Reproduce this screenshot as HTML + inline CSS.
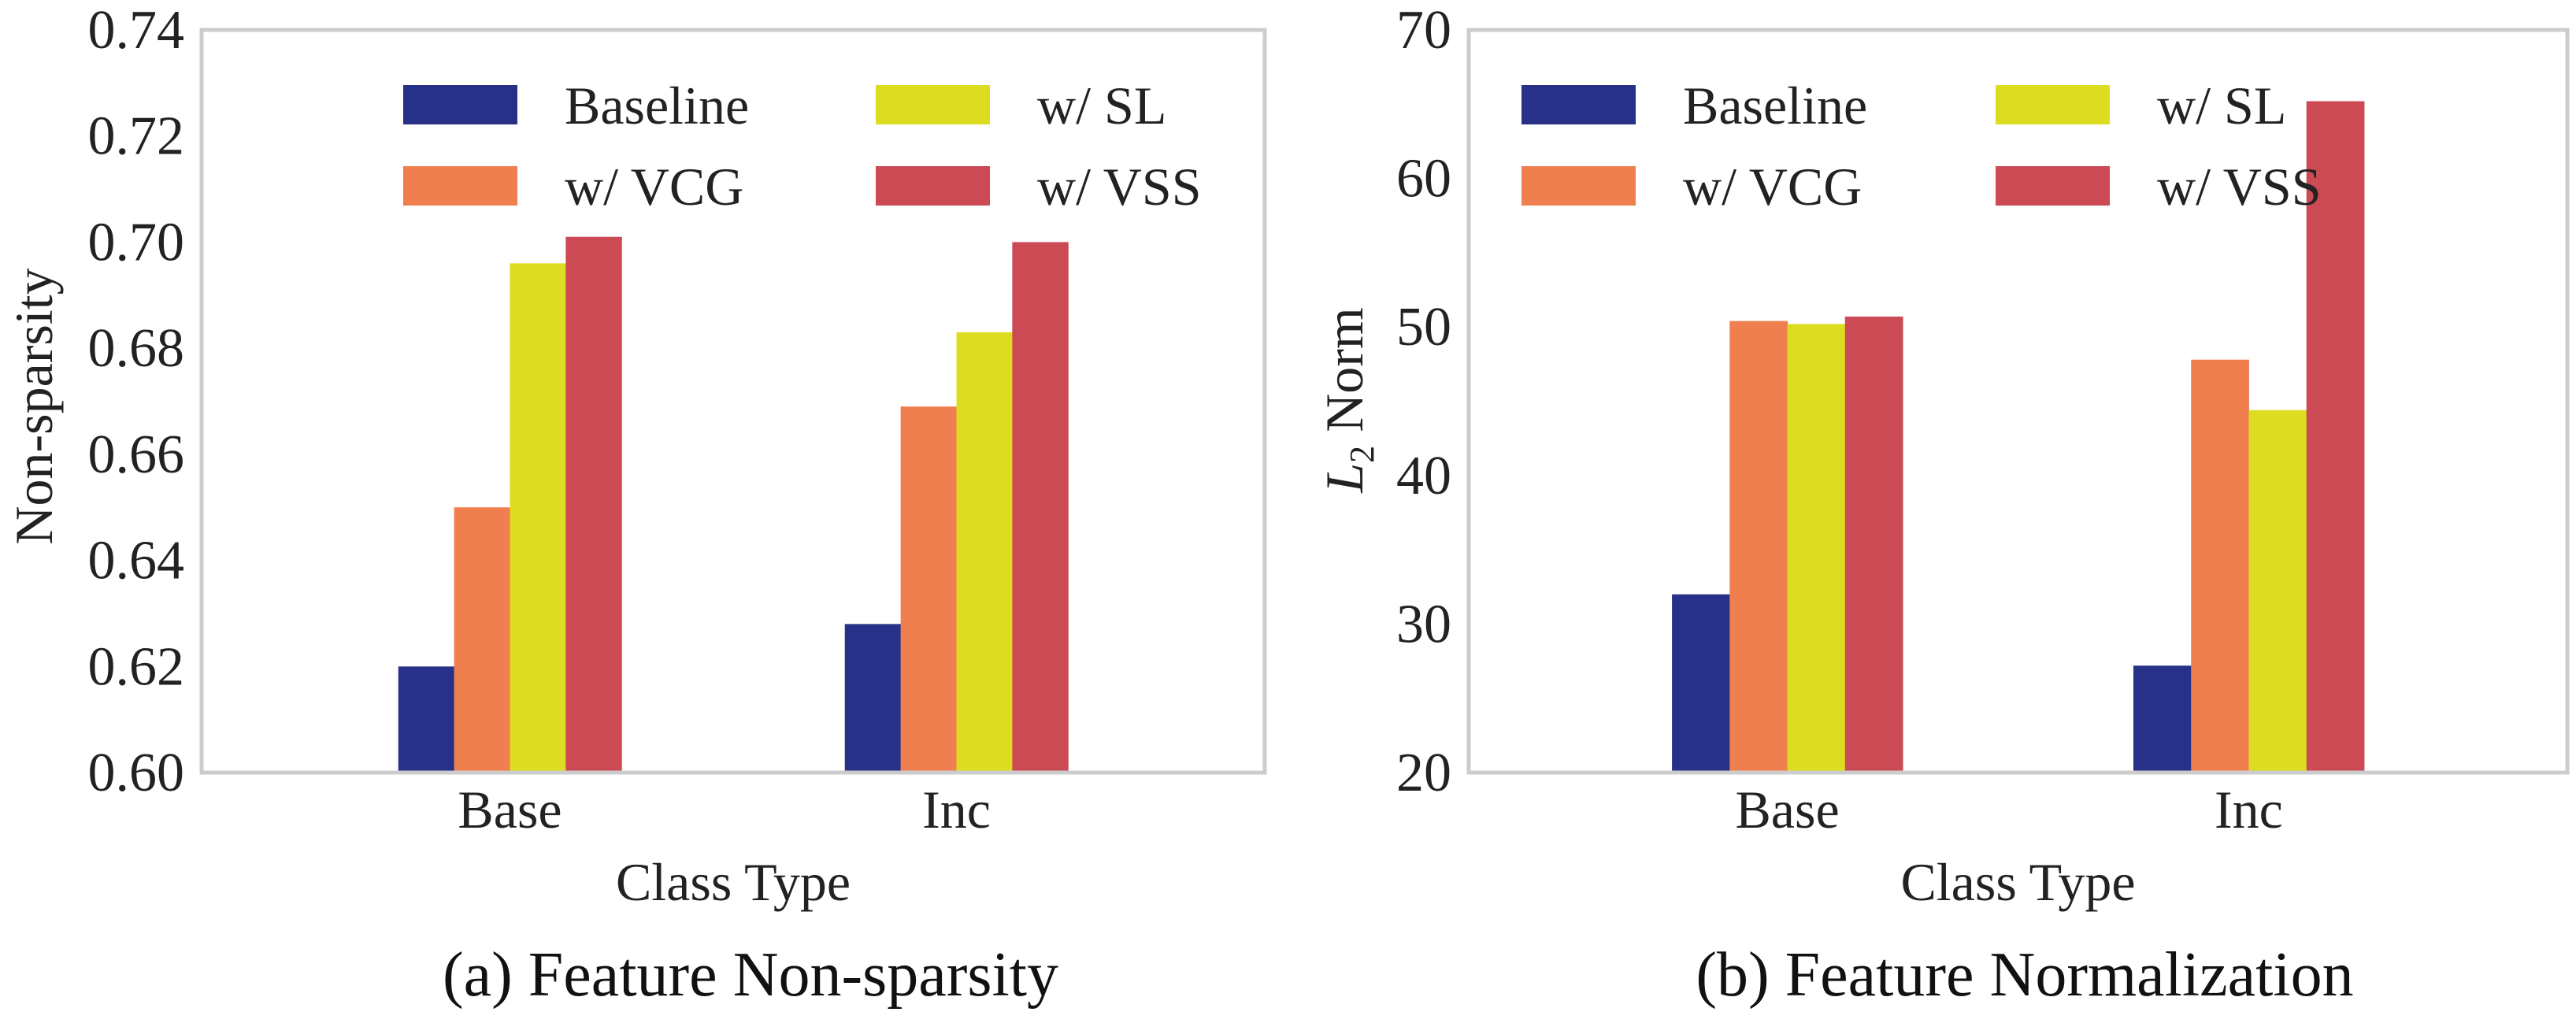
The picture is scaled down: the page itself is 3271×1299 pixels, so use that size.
<!DOCTYPE html>
<html><head><meta charset="utf-8"><style>
html,body{margin:0;padding:0;background:#fff;}
svg{display:block;font-family:"Liberation Serif",serif;fill:#222;}
</style></head><body>
<svg id="chart" width="3271" height="1299" viewBox="0 0 3271 1299" xmlns="http://www.w3.org/2000/svg"></svg>
<script>
const categories = ["Base", "Inc"];
const seriesNames = ["Baseline", "w/ VCG", "w/ SL", "w/ VSS"];
const colors = ["#283188", "#ef7f4f", "#dcdc20", "#cb4a54"];
const sparsityBaseline = [0.620, 0.628];
const sparsityVCG = [0.650, 0.669];
const sparsitySL = [0.696, 0.683];
const sparsityVSS = [0.701, 0.700];
const normBaseline = [32.0, 27.2];
const normVCG = [50.4, 47.8];
const normSL = [50.2, 44.4];
const normVSS = [50.7, 65.2];
const sparsityTicks = ["0.60","0.62","0.64","0.66","0.68","0.70","0.72","0.74"];
const normTicks = ["20","30","40","50","60","70"];

const svg = document.getElementById('chart');
const NS = "http://www.w3.org/2000/svg";
function mk(tag, attrs, parent){const e=document.createElementNS(NS,tag);for(const k in attrs)e.setAttribute(k,attrs[k]);(parent||svg).appendChild(e);return e;}

function panel(cfg){
  const g = mk('g',{});
  
  
  const L=cfg.x0,R=cfg.x1,T=38,B=981,W=R-L;
  const ymin=+cfg.ticks[0], ymax=+cfg.ticks[cfg.ticks.length-1];
  const y=v=>B-(v-ymin)/(ymax-ymin)*(B-T);
  const spacing=W*0.42, c0=L+W*0.29;
  const xc=i=>c0+i*spacing;
  const bw=spacing*0.125;
  cfg.series.forEach((vals,s)=>{
    vals.forEach((v,i)=>{
      const x=xc(i)-2*bw+s*bw;
      const r=mk('rect',{x:x,y:y(v),width:bw+0.5,height:B-y(v),fill:colors[s]},g);
      
      
    });
  });
  const f=mk('rect',{x:L,y:T,width:W,height:B-T,fill:'none',stroke:'#cccccc','stroke-width':5},g);
  
  
  cfg.ticks.forEach(t=>{
    const e=mk('text',{x:L-22,y:y(+t)+23,'text-anchor':'end','font-size':70},g);
    e.textContent=t;
    
    
  });
  categories.forEach((c,i)=>{
    const e=mk('text',{x:xc(i),y:1051,'text-anchor':'middle','font-size':68},g);
    e.textContent=c;
    
    
  });
  const xt=mk('text',{x:L+W/2,y:1143,'text-anchor':'middle','font-size':68},g);
  xt.textContent='Class Type';
  
  
  const cap=mk('text',{x:cfg.capX,y:1264,'text-anchor':'middle','font-size':80,fill:'#111'},g);
  cap.textContent=cfg.caption;
  
  
  const yt=mk('text',{x:0,y:0,'text-anchor':'middle','font-size':68,transform:`translate(${cfg.ytX},${cfg.ytY}) rotate(-90)`},g);
  if(cfg.yHTML){yt.innerHTML=cfg.yHTML;}else yt.textContent=cfg.ytitle;
  
  
  seriesNames.forEach((n,s)=>{
    const col=s===0||s===1?0:1, row=s===0||s===2?0:1;
    const px=cfg.leg[col], py=108+row*103;
    const lg=mk('g',{},g);
    
    
    mk('rect',{x:px,y:py,width:145,height:50,fill:colors[s]},lg);
    const t=mk('text',{x:px+205,y:py+49,'font-size':68},lg);
    t.textContent=n;
  });
}
panel({name:'sparsity-chart',x0:256,x1:1606,ticks:sparsityTicks,series:[sparsityBaseline,sparsityVCG,sparsitySL,sparsityVSS],
  caption:'(a) Feature Non-sparsity',capX:953,ytitle:'Non-sparsity',ytX:66,ytY:516,leg:[512,1112]});
panel({name:'norm-chart',x0:1865,x1:3260,ticks:normTicks,series:[normBaseline,normVCG,normSL,normVSS],
  caption:'(b) Feature Normalization',capX:2571,ytX:1730,ytY:508,yHTML:'<tspan font-style="italic">L</tspan><tspan font-size="44" dy="14">2</tspan><tspan dy="-14"> Norm</tspan>',leg:[1932,2534]});
</script>
</body></html>
